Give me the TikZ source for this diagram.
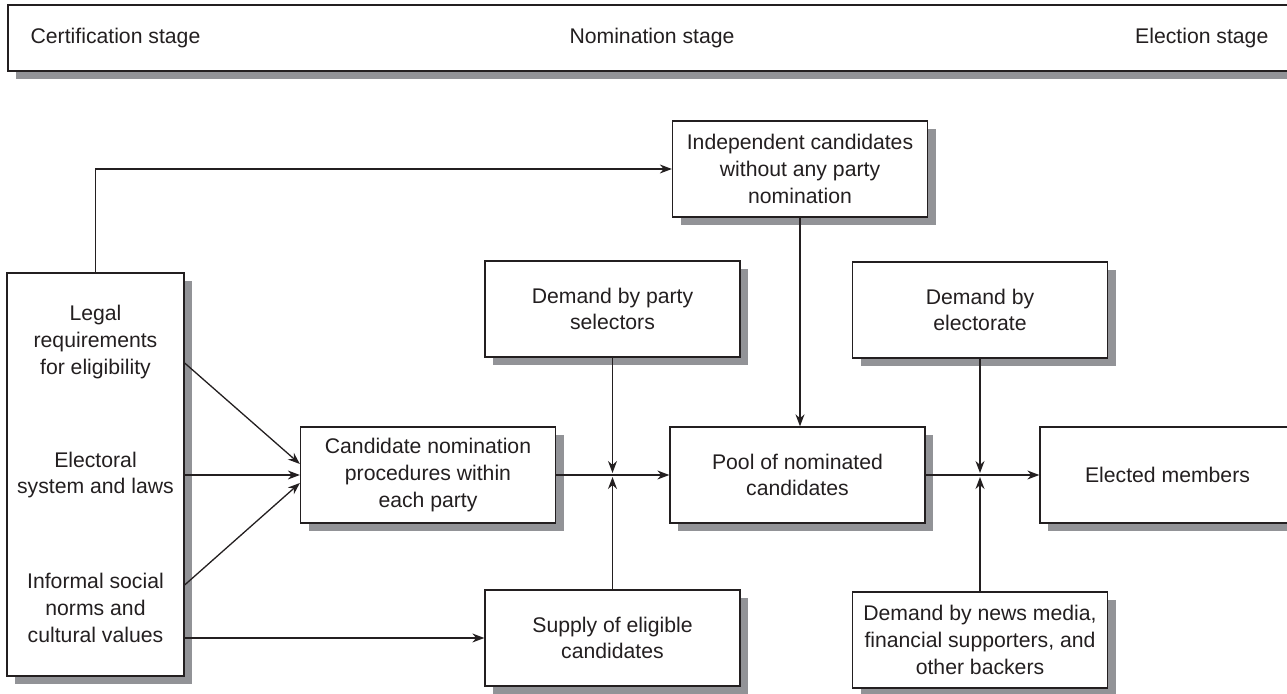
\documentclass[tikz,border=0pt]{standalone}
\usepackage{fontspec}
\setmainfont{Liberation Sans}
\usetikzlibrary{shadows,arrows.meta}
\definecolor{shadowgray}{RGB}{146,147,151}
\definecolor{inkgray}{RGB}{35,31,32}

\begin{document}
\begin{tikzpicture}[x=0.5pt, y=-0.5pt, line width=0.65pt, draw=inkgray, text=inkgray,
  font=\fontsize{10.6}{13.3}\selectfont,
  shade box/.style={draw=inkgray, fill=white, inner sep=0pt,
    drop shadow={shadow xshift=4pt, shadow yshift=-4pt, fill=shadowgray, opacity=1}},
  box/.style={shade box, align=center, minimum width=127.5pt, minimum height=48pt},
  arr/.style={-{Stealth[length=6pt, width=4.5pt]}}]
\useasboundingbox (0,0) rectangle (1287,694);

% stage banner
\node[shade box, minimum width=646pt, minimum height=33pt] (stages) at (654,38) {};
\node[anchor=west, inner sep=0pt] (cert) at (30,38) {Certification stage};
\node[inner sep=0pt] (nom) at (652,38) {Nomination stage};
\node[anchor=east, inner sep=0pt] (elec) at (1269,38) {Election stage};

% left column of factors
\node[shade box, minimum width=88.5pt, minimum height=201.5pt] (factors) at (95.5,474.5) {};
\node[align=center] (legal) at (95.5,342) {Legal\\requirements\\for eligibility};
\node[align=center] (electoral) at (95.5,475) {Electoral\\system and laws};
\node[align=center] (informal) at (95.5,608) {Informal social\\norms and\\cultural values};

% boxes
\node[box] (indep) at (800,169) {Independent candidates\\without any party\\nomination};
\node[box] (psel) at (612.5,309) {Demand by party\\selectors};
\node[box] (cand) at (428,475) {Candidate nomination\\procedures within\\each party};
\node[box] (supply) at (612.5,638) {Supply of eligible\\candidates};
\node[box] (pool) at (797.5,475) {Pool of nominated\\candidates};
\node[box] (electorate) at (980,310) {Demand by\\electorate};
\node[box] (media) at (980,640) {Demand by news media,\\financial supporters, and\\other backers};
\node[box] (elected) at (1167.5,475) {Elected members};

% junction points
\coordinate (j1) at (psel.south |- cand.east);
\coordinate (j2) at (electorate.south |- pool.east);
\coordinate (legal out) at (factors.east |- 0,363);
\coordinate (informal out) at (factors.east |- 0,585);

% connectors
\draw[arr] (factors.north) |- (indep.west);
\draw[arr] (legal out) -- ([yshift=5.5pt]cand.west);
\draw[arr] (factors.east |- cand.west) -- (cand.west);
\draw[arr] (informal out) -- ([yshift=-4pt]cand.west);
\draw[arr] (factors.east |- supply.west) -- (supply.west);

\draw[arr] (cand.east) -- (pool.west);
\draw[arr, shorten >=1pt] (psel.south) -- (j1);
\draw[arr, shorten >=1pt] (supply.north) -- (j1);
\draw[arr] (indep.south) -- (indep.south |- pool.north);

\draw[arr] (pool.east) -- (elected.west);
\draw[arr, shorten >=1pt] (electorate.south) -- (j2);
\draw[arr, shorten >=1pt] (media.north) -- (j2);
\end{tikzpicture}
\end{document}
